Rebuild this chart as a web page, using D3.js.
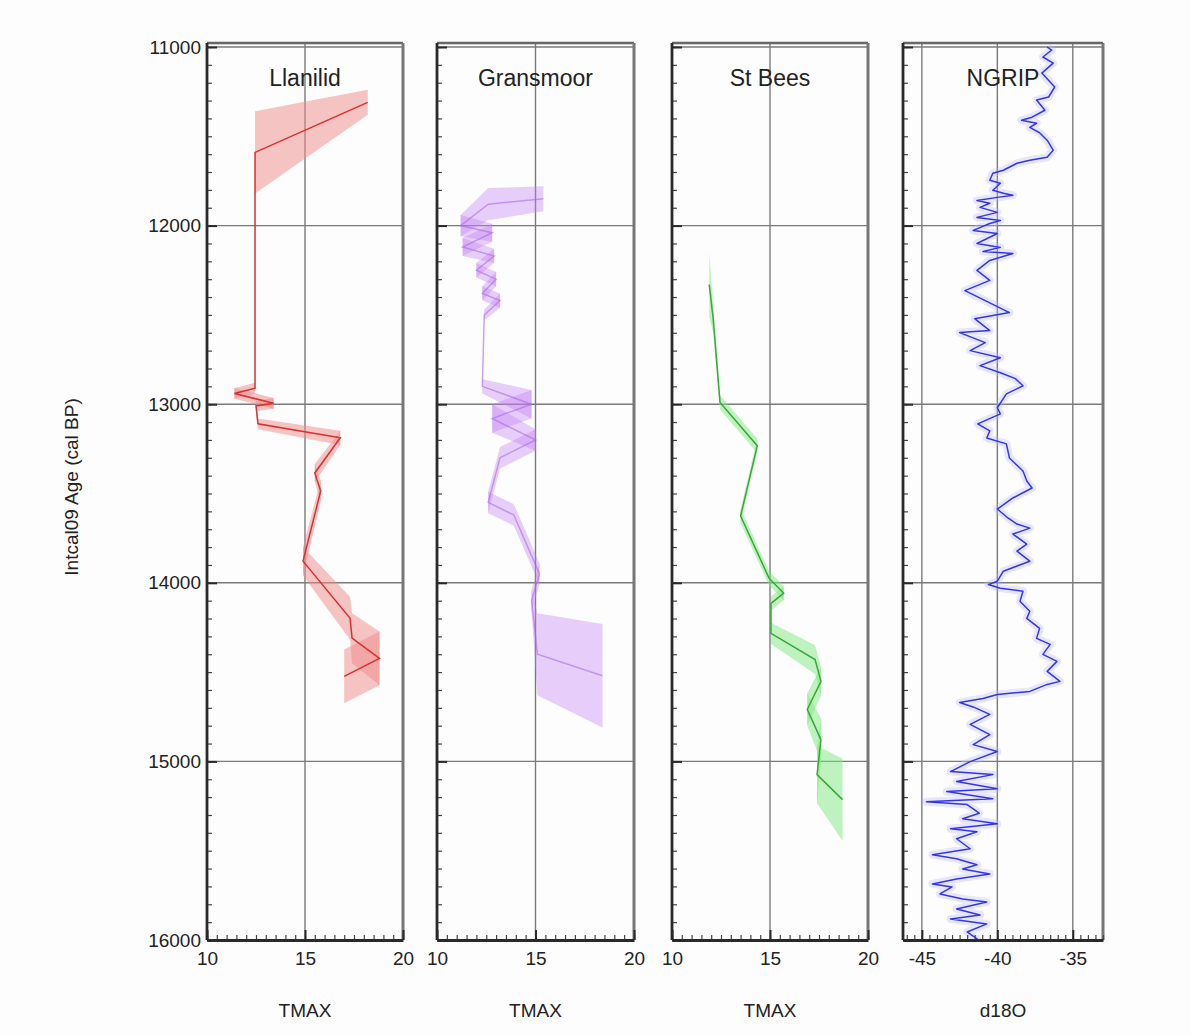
<!DOCTYPE html>
<html>
<head>
<meta charset="utf-8">
<script src="https://cdn.jsdelivr.net/npm/d3@7"></script>
<style>
    body { margin: 0; background: #fdfdfd; }
    text { font-family: "Liberation Sans", Arial, sans-serif; fill: #222; }
</style>
</head>
<body>
<svg id="chart" width="1191" height="1035"></svg>
<script>
// Shared axis data
const ageTicks = [11000, 12000, 13000, 14000, 15000, 16000];
const panelNames = ['Llanilid', 'Gransmoor', 'St Bees', 'NGRIP'];
const xLabels = ['TMAX', 'TMAX', 'TMAX', 'd18O'];
const xDomains = [[10, 20], [10, 20], [10, 20], [-46.25, -33]];
const xTickValues = [[10, 15, 20], [10, 15, 20], [10, 15, 20], [-45, -40, -35]];

// Llanilid (temperature, age, age error)
const llanilidTemp = [18.2, 12.45, 12.45, 11.4, 13.4, 12.5, 12.6, 16.8, 15.5, 15.8, 14.9, 17.3, 17.4, 18.8, 17.0];
const llanilidAge = [11310, 11590, 12910, 12940, 12995, 13010, 13110, 13188, 13385, 13486, 13879, 14199, 14310, 14423, 14524];
const llanilidErr = [70, 230, 30, 30, 30, 30, 30, 40, 50, 60, 80, 120, 140, 150, 150];

// Gransmoor
const gransmoorTemp = [15.4, 12.6, 11.2, 12.8, 11.3, 12.9, 12.0, 13.0, 12.3, 13.2, 12.4, 12.3, 14.8, 12.8, 15.0, 13.2, 12.6, 13.9, 15.2, 14.8, 15.1, 18.4];
const gransmoorAge = [11850, 11880, 12000, 12040, 12120, 12170, 12250, 12300, 12380, 12420, 12500, 12900, 13000, 13080, 13200, 13300, 13550, 13620, 13950, 14100, 14400, 14520];
const gransmoorErr = [70, 90, 60, 50, 50, 40, 40, 40, 40, 40, 30, 40, 80, 80, 60, 60, 60, 60, 60, 60, 230, 290];

// St Bees
const stBeesTemp = [11.9, 12.1, 12.45, 14.35, 13.5, 14.95, 15.7, 15.05, 15.05, 17.3, 17.6, 16.9, 17.6, 17.4, 18.7];
const stBeesAge = [12330, 12520, 12990, 13233, 13626, 13974, 14058, 14115, 14283, 14430, 14552, 14709, 14878, 15074, 15214];
const stBeesErr = [180, 80, 40, 40, 40, 40, 40, 40, 60, 80, 80, 90, 120, 160, 230];

// NGRIP d18O
const ngripAge = [11000, 11017, 11056, 11090, 11146, 11224, 11280, 11297, 11354, 11393, 11410, 11427, 11450, 11480, 11522, 11578, 11617, 11634, 11651, 11690,
    11707, 11746, 11763, 11802, 11819, 11830, 11842, 11859, 11875, 11898, 11926, 11954, 11971, 11988, 12027, 12044, 12100, 12122, 12145, 12156,
    12195, 12251, 12307, 12364, 12420, 12487, 12521, 12588, 12599, 12655, 12700, 12740, 12784, 12824, 12857, 12897, 12942, 13020, 13054, 13110,
    13149, 13189, 13222, 13301, 13374, 13430, 13469, 13525, 13587, 13637, 13671, 13694, 13727, 13783, 13823, 13879, 13935, 13991, 14010, 14030,
    14047, 14103, 14159, 14199, 14255, 14311, 14345, 14401, 14440, 14496, 14552, 14569, 14608, 14625, 14648, 14670, 14695, 14737, 14793, 14850,
    14906, 14945, 15001, 15057, 15074, 15113, 15153, 15169, 15209, 15226, 15242, 15290, 15321, 15349, 15377, 15394, 15433, 15489, 15523, 15545,
    15579, 15602, 15630, 15658, 15686, 15703, 15742, 15770, 15787, 15826, 15860, 15882, 15910, 15955, 15994, 16000];
const ngripD18O = [-36.7, -36.4, -36.98, -36.3, -37.05, -36.2, -36.6, -37.4, -36.85, -37.7, -38.4, -37.4, -37.85, -37.2, -36.7, -36.3, -36.7, -37.85, -38.7, -39.6,
    -40.3, -40.5, -39.8, -40.3, -39.6, -38.97, -40.0, -41.35, -40.5, -41.15, -40.0, -41.35, -39.8, -40.5, -41.6, -40.0, -41.35, -39.8, -40.95, -38.97,
    -40.5, -41.35, -40.5, -42.15, -40.8, -39.2, -41.5, -40.5, -42.5, -40.8, -41.8, -39.8, -41.15, -39.8, -38.8, -38.3, -39.4, -40.0, -39.8, -41.3,
    -40.5, -40.7, -39.4, -39.2, -38.3, -38.05, -37.7, -38.97, -40.0, -39.3, -38.7, -37.85, -38.97, -38.05, -38.7, -37.85, -39.6, -40.0, -40.6, -39.8,
    -38.3, -38.5, -37.85, -38.05, -37.2, -37.4, -36.5, -36.98, -36.05, -36.7, -35.85, -36.7, -37.85, -40.0, -40.95, -42.5, -41.6, -40.5, -41.8, -40.5,
    -41.6, -40.0, -41.8, -43.1, -40.3, -42.7, -40.0, -43.35, -40.3, -44.7, -42.0, -41.2, -42.3, -40.0, -43.1, -41.35, -42.7, -41.8, -44.3, -42.7,
    -41.35, -42.3, -40.5, -42.7, -44.3, -43.0, -43.8, -42.3, -40.7, -42.7, -41.15, -43.1, -40.7, -42.0, -41.35, -41.6];

// Layout
const panelLeft = [207, 437, 672, 903];
const panelRight = [403, 634, 868, 1103];
const frameTop = 43;

const svg = d3.select('#chart');

const y = d3.scaleLinear()
    .domain([11000, 16000])
    .range([47, 940]);

// Build point lists for the chironomid series
function zipSeries(temps, ages, errs) {
    return temps.map((t, i) => ({ t: t, a: ages[i], e: errs[i] }));
}

const series = [
    { pts: zipSeries(llanilidTemp, llanilidAge, llanilidErr), line: '#d8302f', band: '#f08a8a', bandOpacity: 0.5, lineOpacity: 1 },
    { pts: zipSeries(gransmoorTemp, gransmoorAge, gransmoorErr), line: '#a565e6', band: '#c27ff2', bandOpacity: 0.38, lineOpacity: 0.55 },
    { pts: zipSeries(stBeesTemp, stBeesAge, stBeesErr), line: '#38a838', band: '#7fe87f', bandOpacity: 0.5, lineOpacity: 1 }
];

const ngripPts = ngripAge.map((a, i) => ({ v: ngripD18O[i], a: a }));

// Plain hyphen minus like the original figure
const plainFormat = d => String(d);

// Draw each panel
panelNames.forEach((name, i) => {

    const x = d3.scaleLinear()
        .domain(xDomains[i])
        .range([panelLeft[i], panelRight[i]]);

    const g = svg.append('g');

    g.append('clipPath')
        .attr('id', 'clip' + i)
        .append('rect')
        .attr('x', panelLeft[i])
        .attr('y', frameTop)
        .attr('width', panelRight[i] - panelLeft[i])
        .attr('height', y(16000) - frameTop);

    // Grid lines
    g.selectAll('.vgrid')
        .data(xTickValues[i])
        .enter()
        .append('line')
        .attr('x1', d => x(d))
        .attr('x2', d => x(d))
        .attr('y1', frameTop)
        .attr('y2', y(16000))
        .attr('stroke', '#7a7a7a')
        .attr('stroke-width', 1.4);

    g.selectAll('.hgrid')
        .data(ageTicks)
        .enter()
        .append('line')
        .attr('x1', panelLeft[i])
        .attr('x2', panelRight[i])
        .attr('y1', d => y(d))
        .attr('y2', d => y(d))
        .attr('stroke', '#7a7a7a')
        .attr('stroke-width', 1.4);

    const plot = g.append('g').attr('clip-path', `url(#clip${i})`);

    if (i < 3) {
        const s = series[i];

        // Age uncertainty band, one piece per segment so overlaps get darker
        const band = d3.area()
            .x(d => x(d.t))
            .y0(d => y(d.a - d.e))
            .y1(d => y(d.a + d.e));

        const segs = d3.pairs(s.pts);

        plot.selectAll('.band')
            .data(segs)
            .enter()
            .append('path')
            .attr('d', d => band(d))
            .attr('fill', s.band)
            .attr('fill-opacity', s.bandOpacity)
            .attr('stroke', 'none');

        const line = d3.line()
            .x(d => x(d.t))
            .y(d => y(d.a));

        plot.append('path')
            .datum(s.pts)
            .attr('d', line)
            .attr('fill', 'none')
            .attr('stroke', s.line)
            .attr('stroke-opacity', s.lineOpacity)
            .attr('stroke-width', 1.5);
    } else {
        const line = d3.line()
            .x(d => x(d.v))
            .y(d => y(d.a));

        // Faint halo round the record
        plot.append('path')
            .datum(ngripPts)
            .attr('d', line)
            .attr('fill', 'none')
            .attr('stroke', '#b9b9ff')
            .attr('stroke-opacity', 0.35)
            .attr('stroke-width', 8)
            .attr('stroke-linejoin', 'round');

        plot.append('path')
            .datum(ngripPts)
            .attr('d', line)
            .attr('fill', 'none')
            .attr('stroke', '#3535e8')
            .attr('stroke-width', 1.5)
            .attr('stroke-linejoin', 'round');
    }

    // Frame top and right
    g.append('line')
        .attr('x1', panelLeft[i]).attr('x2', panelRight[i])
        .attr('y1', frameTop).attr('y2', frameTop)
        .attr('stroke', '#666').attr('stroke-width', 2.5);

    g.append('line')
        .attr('x1', panelRight[i]).attr('x2', panelRight[i])
        .attr('y1', frameTop).attr('y2', y(16000))
        .attr('stroke', '#777').attr('stroke-width', 3);

    // Left axis: minor then major ticks
    g.append('g')
        .attr('transform', `translate(${panelLeft[i]},0)`)
        .call(d3.axisLeft(y).tickValues(d3.range(11000, 16001, 100)).tickSize(-5).tickSizeOuter(0).tickFormat(''))
        .call(a => a.select('.domain').remove())
        .call(a => a.selectAll('line').attr('stroke', '#444').attr('stroke-width', 1.2));

    const leftAxis = g.append('g')
        .attr('transform', `translate(${panelLeft[i]},0)`)
        .call(d3.axisLeft(y).tickValues(ageTicks).tickSize(-10).tickSizeOuter(0).tickPadding(6)
            .tickFormat(i === 0 ? plainFormat : ''));

    leftAxis.attr('font-size', 19).attr('font-family', null);
    leftAxis.select('.domain').attr('stroke', '#2a2a2a').attr('stroke-width', 2.8).attr('d', `M0,${frameTop}V${y(16000)}`);
    leftAxis.selectAll('line').attr('stroke', '#2a2a2a').attr('stroke-width', 2);
    leftAxis.selectAll('text').attr('fill', '#222');

    // Bottom axis: minor then major ticks
    const minorX = d3.range(Math.ceil(xDomains[i][0] * 2) / 2, xDomains[i][1] + 0.001, 0.5);

    g.append('g')
        .attr('transform', `translate(0,${y(16000)})`)
        .call(d3.axisBottom(x).tickValues(minorX).tickSize(-5).tickSizeOuter(0).tickFormat(''))
        .call(a => a.select('.domain').remove())
        .call(a => a.selectAll('line').attr('stroke', '#444').attr('stroke-width', 1.2));

    const bottomAxis = g.append('g')
        .attr('transform', `translate(0,${y(16000)})`)
        .call(d3.axisBottom(x).tickValues(xTickValues[i]).tickSize(-10).tickSizeOuter(0).tickPadding(12)
            .tickFormat(plainFormat));

    bottomAxis.attr('font-size', 19).attr('font-family', null);
    bottomAxis.select('.domain').attr('stroke', '#2a2a2a').attr('stroke-width', 2.8);
    bottomAxis.selectAll('line').attr('stroke', '#2a2a2a').attr('stroke-width', 2);
    bottomAxis.selectAll('text').attr('fill', '#222');

    // Panel title and x label
    const cx = (panelLeft[i] + panelRight[i]) / 2;

    g.append('text')
        .attr('x', cx)
        .attr('y', 86)
        .attr('text-anchor', 'middle')
        .attr('font-size', 23)
        .text(name);

    g.append('text')
        .attr('x', cx)
        .attr('y', 1017)
        .attr('text-anchor', 'middle')
        .attr('font-size', 19)
        .text(xLabels[i]);
});

// Y axis title
svg.append('text')
    .attr('transform', 'translate(78,487) rotate(-90)')
    .attr('text-anchor', 'middle')
    .attr('font-size', 19)
    .text('Intcal09 Age (cal BP)');
</script>
</body>
</html>
